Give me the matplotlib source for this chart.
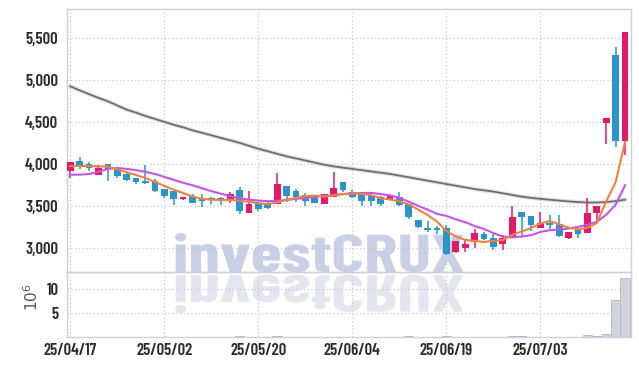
import matplotlib
matplotlib.use("Agg")
import matplotlib.pyplot as plt
import numpy as np
from matplotlib.textpath import TextPath
from matplotlib.patches import PathPatch
from matplotlib.font_manager import FontProperties
from matplotlib.transforms import Affine2D, IdentityTransform
from matplotlib.ticker import FuncFormatter

# ---------------- data ----------------
dates = ["25/04/17", "25/04/18", "25/04/21", "25/04/22", "25/04/23", "25/04/24", "25/04/25",
         "25/04/28", "25/04/29", "25/04/30", "25/05/02", "25/05/07", "25/05/08", "25/05/09",
         "25/05/12", "25/05/13", "25/05/14", "25/05/15", "25/05/16", "25/05/19", "25/05/20",
         "25/05/21", "25/05/22", "25/05/23", "25/05/26", "25/05/27", "25/05/28", "25/05/29",
         "25/05/30", "25/06/02", "25/06/04", "25/06/05", "25/06/09", "25/06/10", "25/06/11",
         "25/06/12", "25/06/13", "25/06/16", "25/06/17", "25/06/18", "25/06/19", "25/06/20",
         "25/06/23", "25/06/24", "25/06/25", "25/06/26", "25/06/27", "25/06/30", "25/07/01",
         "25/07/02", "25/07/03", "25/07/04", "25/07/07", "25/07/08", "25/07/09", "25/07/10",
         "25/07/11", "25/07/14", "25/07/15", "25/07/16"]

opens = [3924, 4039, 4004, 3876, 4004, 3940, 3885, 3837, 3801, 3805,
         3706, 3682, 3587, 3623, 3583, 3587, 3599, 3575, 3694, 3424,
         3543, 3527, 3524, 3742, 3682, 3631, 3607, 3524, 3611, 3786,
         3674, 3646, 3634, 3614, 3583, 3611, 3524, 3337, 3238, 3245,
         3238, 2952, 3007, 3071, 3167, 3122, 3051, 3131, 3432, 3385,
         3245, 3305, 3290, 3126, 3226, 3179, 3417, 4495, 5301, 4281]
highs = [4031, 4090, 4024, 3992, 4004, 3950, 3908, 3840, 3992, 3825,
         3710, 3685, 3611, 3643, 3643, 3614, 3605, 3667, 3726, 3679,
         3555, 3567, 3893, 3742, 3702, 3662, 3614, 3650, 3912, 3786,
         3690, 3660, 3640, 3620, 3638, 3670, 3530, 3340, 3329, 3269,
         3274, 3090, 3114, 3233, 3190, 3185, 3155, 3504, 3432, 3390,
         3429, 3393, 3393, 3194, 3230, 3595, 3504, 4551, 5393, 5575]
lows = [3833, 3944, 3924, 3876, 3801, 3840, 3805, 3762, 3762, 3667,
        3602, 3515, 3575, 3535, 3495, 3524, 3515, 3543, 3408, 3424,
        3440, 3471, 3524, 3548, 3555, 3504, 3535, 3524, 3611, 3670,
        3595, 3507, 3504, 3507, 3583, 3504, 3349, 3238, 3198, 3174,
        2920, 2940, 2960, 3004, 3100, 2980, 2980, 3131, 3138, 3210,
        3245, 3226, 3140, 3107, 3119, 3179, 3317, 4242, 4210, 4111]
closes = [4031, 3992, 3952, 3952, 3940, 3864, 3817, 3789, 3777, 3686,
          3626, 3587, 3611, 3543, 3567, 3575, 3567, 3650, 3444, 3527,
          3471, 3480, 3765, 3623, 3607, 3563, 3543, 3650, 3721, 3694,
          3607, 3567, 3567, 3531, 3623, 3512, 3376, 3257, 3218, 3221,
          2932, 3090, 3051, 3179, 3111, 3019, 3119, 3373, 3376, 3277,
          3305, 3281, 3150, 3194, 3174, 3424, 3504, 4551, 4281, 5575]

# volume, millions of shares
volume = [0.03, 0.03, 0.03, 0.03, 0.03, 0.03, 0.03, 0.03, 0.03, 0.03,
          0.03, 0.03, 0.03, 0.03, 0.03, 0.03, 0.03, 0.03, 0.30, 0.03,
          0.03, 0.03, 0.35, 0.03, 0.03, 0.03, 0.03, 0.03, 0.03, 0.03,
          0.03, 0.03, 0.03, 0.03, 0.03, 0.03, 0.20, 0.03, 0.03, 0.03,
          0.20, 0.03, 0.03, 0.03, 0.03, 0.03, 0.03, 0.20, 0.20, 0.03,
          0.03, 0.03, 0.03, 0.03, 0.03, 0.45, 0.30, 0.70, 7.8, 12.4]

ma_short = [3978, 3980, 3978, 3975, 3972, 3940, 3905, 3872, 3837, 3790,
            3742, 3697, 3658, 3615, 3590, 3578, 3574, 3578, 3565, 3555,
            3538, 3525, 3545, 3578, 3600, 3622, 3628, 3615, 3630, 3645,
            3652, 3650, 3632, 3598, 3580, 3560, 3522, 3460, 3397, 3317,
            3205, 3140, 3100, 3088, 3075, 3088, 3098, 3160, 3200, 3240,
            3295, 3325, 3285, 3245, 3225, 3245, 3300, 3560, 3787, 4267]
ma_mid = [3876, 3876, 3885, 3910, 3945, 3955, 3945, 3930, 3910, 3885,
          3850, 3815, 3780, 3750, 3715, 3680, 3650, 3620, 3595, 3578,
          3568, 3560, 3565, 3575, 3588, 3598, 3612, 3625, 3632, 3645,
          3655, 3658, 3660, 3645, 3630, 3600, 3555, 3505, 3460, 3410,
          3385, 3345, 3310, 3265, 3230, 3180, 3140, 3130, 3140, 3155,
          3195, 3215, 3225, 3235, 3255, 3280, 3315, 3400, 3520, 3750]
ma_long = [4928, 4880, 4835, 4790, 4750, 4700, 4650, 4615, 4575, 4540,
           4505, 4470, 4440, 4405, 4375, 4345, 4315, 4285, 4255, 4220,
           4185, 4155, 4125, 4095, 4070, 4045, 4020, 3995, 3975, 3960,
           3945, 3930, 3915, 3900, 3885, 3865, 3845, 3825, 3805, 3785,
           3765, 3745, 3725, 3705, 3690, 3675, 3655, 3635, 3615, 3600,
           3588, 3578, 3568, 3558, 3550, 3545, 3545, 3550, 3562, 3578]

# ---------------- style ----------------
UP = "#e5196a"
DOWN = "#2b94c8"
GRID = "#c3c6de"
SPINE = "#cfd0dc"
TXT = "#2a2a2a"
tick_font = ["Barlow Condensed", "DejaVu Sans"]

W, H = 639, 366
fig = plt.figure(figsize=(W / 100, H / 100), dpi=100)
fig.patch.set_facecolor("white")

L, R = 66.7, 630.7
ax = fig.add_axes([L / W, 1 - 272.3 / H, (R - L) / W, (272.3 - 9.3) / H])
axv = fig.add_axes([L / W, 1 - 337.3 / H, (R - L) / W, (337.3 - 272.3) / H], sharex=ax)
for a in (ax, axv):
    a.set_facecolor("none")
    for s in a.spines.values():
        s.set_color(SPINE)
        s.set_linewidth(1.0)
    a.tick_params(length=0, colors=TXT)
    a.grid(True, color=GRID, linestyle=(0, (1, 2)), linewidth=0.9)
    a.set_axisbelow(True)

# watermark with reflection (pixel coords)
fp = FontProperties(family=["Barlow Condensed", "DejaVu Sans"], weight="bold")
tp = TextPath((0, 0), "investCRUX", size=1, prop=fp)
ext = tp.get_extents()
tw, th = 288.0, 39.0
sx = tw / (ext.x1 - ext.x0)
sy = th / ext.y1
x0 = 175.0
main_tr = Affine2D().translate(-ext.x0, 0).scale(sx, sy).translate(x0, H - 272.0)
refl_tr = Affine2D().translate(-ext.x0, 0).scale(sx, -sy * 0.98).translate(x0, H - 275.0)
for tr, col in ((main_tr, "#c9cfe4"), (refl_tr, "#e4e6ef")):
    p = PathPatch(tr.transform_path(tp), facecolor=col, edgecolor="none",
                  transform=IdentityTransform(), zorder=-5)
    fig.add_artist(p)

x = np.arange(len(dates))
o = np.array(opens, float)
c = np.array(closes, float)
hi = np.array(highs, float)
lo = np.array(lows, float)
up = c >= o
cols = np.where(up, UP, DOWN)

# wicks
ax.vlines(x, lo, hi, colors=cols, linewidth=1.1, zorder=3)
# bodies
bottom = np.minimum(o, c)
height = np.maximum(np.abs(c - o), 22)
ax.bar(x, height, bottom=bottom, width=0.72, color=cols, linewidth=0.0, zorder=4)

# moving averages
ax.plot(x, ma_long, color="#8a8a8a", linewidth=3.0, alpha=0.25, zorder=2)
ax.plot(x, ma_long, color="#6f6f6f", linewidth=1.3, zorder=2)
ax.plot(x, ma_mid, color="#c455e8", linewidth=1.5, zorder=5)
ax.plot(x, ma_short, color="#ee8146", linewidth=1.5, zorder=6)

ax.set_xlim(-0.38, 59.6)
ax.set_ylim(2714, 5845)
ax.set_yticks([3000, 3500, 4000, 4500, 5000, 5500])
ax.yaxis.set_major_formatter(FuncFormatter(lambda v, p: f"{int(v):,}"))
ax.set_xticks(x[::10])
plt.setp(ax.get_xticklabels(), visible=False)
for lab in ax.get_yticklabels():
    lab.set_fontfamily(tick_font)
    lab.set_fontweight("semibold")
    lab.set_fontsize(12)
ax.tick_params(axis="y", pad=6)

# volume
axv.bar(x, volume, width=1.0, color="#d3d3db", edgecolor="#b5b5c2", linewidth=0.6, zorder=3)
axv.set_ylim(0, 13.55)
axv.set_yticks([5, 10])
axv.set_yticklabels(["5", "10"])
axv.set_xticks(x[::10])
axv.set_xticklabels([dates[i] for i in x[::10]])
for lab in axv.get_yticklabels() + axv.get_xticklabels():
    lab.set_fontfamily(tick_font)
    lab.set_fontweight("semibold")
    lab.set_fontsize(12)
axv.tick_params(axis="y", pad=6)
axv.tick_params(axis="x", pad=4)
axv.set_ylabel("$10^{6}$", fontsize=11, color="#555555")
axv.yaxis.set_label_coords(-0.045, 0.62)

fig.savefig("out.png", dpi=100, facecolor="white")
